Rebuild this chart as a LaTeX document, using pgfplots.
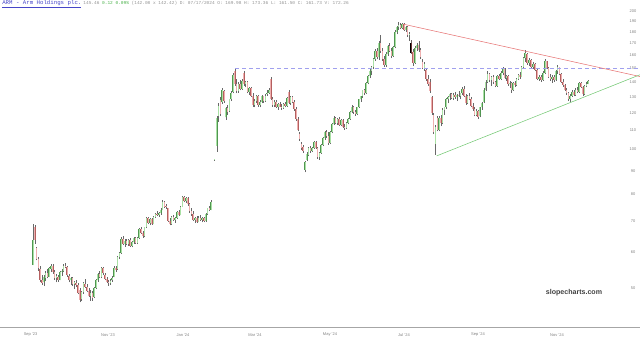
\documentclass[border=0pt]{standalone}
\usepackage{pgfplots}
\pgfplotsset{compat=1.18}
\usepackage{pgfplotstable}
\usepackage{fontspec}
\setmainfont{Liberation Sans}
\newfontfamily\monofont{Liberation Mono}
\definecolor{upfill}{RGB}{170,225,165}
\definecolor{upline}{RGB}{80,150,80}
\definecolor{dnfill}{RGB}{238,175,175}
\definecolor{dnline}{RGB}{180,95,95}
\definecolor{wickc}{RGB}{105,105,105}
\definecolor{hlfill}{RGB}{110,60,60}
\definecolor{armblue}{RGB}{70,70,200}
\definecolor{hdrgray}{RGB}{145,145,145}
\definecolor{hdrgreen}{RGB}{70,175,70}
\definecolor{trred}{RGB}{230,115,115}
\definecolor{trgreen}{RGB}{115,200,115}
\definecolor{trblue}{RGB}{160,160,238}
\pgfplotstableread{
x o h l c k
33.0 56.1 69.0 56.1 63.6 0
34.8 67.8 68.6 62.5 63.5 0
36.6 61 61.5 57.5 58 0
38.4 58 58.5 54.5 55.2 0
40.2 55 55.8 51.5 52.2 0
42.0 52 53.5 50.8 51.3 0
43.8 51.5 53.4 50.5 52.9 0
45.6 52.5 54.5 51.8 54 0
47.4 54 55 52.5 53 0
49.2 53 55.5 52.8 55.2 0
51.0 55 56.5 54.2 56 0
52.8 56 56.3 53.8 54.3 0
54.6 54.3 54.8 52.2 52.6 0
56.4 52.6 53.6 51.5 53.1 0
58.2 53 53.5 51.6 52 0
60.0 52.2 54.5 52 54.2 0
61.8 54.3 55 53.2 54.6 0
63.6 54.6 56.3 54.2 56 0
65.4 56 56.8 55.2 55.6 0
67.2 55.5 56 53 53.3 0
69.0 53.2 53.8 51.5 52 0
70.8 52 53 50.8 52.6 0
72.6 52.5 52.8 50.5 51 0
74.4 51 51.8 49.8 51.5 0
76.2 51.4 52 50.4 50.8 0
78.0 50.8 51.2 48.5 48.9 0
79.8 49.5 50 46.6 47.2 0
81.6 47.3 49.3 47 49 0
83.4 49 51.5 48.6 51.2 0
85.2 51 52.4 50 50.3 0
87.0 50.3 51 49 49.4 0
88.8 49.4 50 47.8 48.2 0
90.6 48.2 49.5 47 48.8 0
92.4 48.8 49.2 47 47.6 0
94.2 47.8 50.2 47.6 50 0
96.0 50 52.4 49.8 52 0
97.8 52 54 51.6 53.6 0
99.6 53.6 54.4 52.5 52.9 0
101.4 53 55.6 52.6 55.3 0
103.2 55.2 55.5 53.5 54 0
105.0 53.5 54 52 52.4 0
106.8 52.4 53 51.2 51.6 0
108.6 51.6 52.2 50.6 51.2 0
110.4 51.2 52.3 50.8 51.9 0
112.2 52 53.2 51.6 52.6 0
114.0 53 55.8 52.8 55.4 0
115.8 55.4 56 54.2 54.7 0
117.6 55 58.8 54.8 58.5 0
119.4 58.5 60 57.8 59.5 0
121.2 59.6 64.5 59.3 64 0
123.0 64 64.8 62 62.5 0
124.8 62.5 63.8 61.5 63.4 0
126.6 63.4 64 62 62.3 0
128.4 62.3 63.8 61.8 63.5 0
130.2 63.5 64.2 61.5 61.8 0
132.0 61.8 63.4 61.3 63 0
133.8 63 64.6 62.5 64.2 0
135.6 64.2 64.5 62.4 62.8 0
137.4 62.8 64.5 62.3 64.3 0
139.2 64.3 67.5 64 67.2 0
141.0 67.2 67.8 65.6 66 0
142.8 66 66.5 64.3 64.8 0
144.6 64.8 68 64.5 67.8 0
146.4 67.8 71.5 67.5 71 0
148.2 71 71.5 68.8 69.2 0
150.0 69.3 71 68.5 70.6 0
151.8 70.6 71.2 68.6 69 0
153.6 69 71.6 68.8 71.3 0
155.4 71.3 73 71 72.6 0
157.2 72.6 73.6 71.6 72 0
159.0 72 73.2 71.4 72.8 0
160.8 72.8 74.5 72.2 74.1 0
162.6 74 77.8 73.8 77 0
164.4 77 77.5 74.8 75.2 0
166.2 75.4 76 74.4 75.1 0
168.0 74.5 74.8 69.6 70 0
169.8 70 71 68.5 68.9 0
171.6 69 71.8 68.7 71.4 0
173.4 71.4 72.2 70 70.4 0
175.2 70.4 71.5 69.4 71.2 0
177.0 71.2 73.5 70.8 73.1 0
178.8 73.1 73.8 71.8 72.2 0
180.6 72.2 75.5 72 75.2 0
182.4 75.2 79.2 75 78.8 0
184.2 78.8 79.5 76.8 77.2 0
186.0 77.2 79 76.5 78.5 0
187.8 78.4 78.8 75.5 76 0
189.6 76 76.5 73 73.5 0
191.4 73.5 74.5 71.8 72.3 0
193.2 72.3 73.4 70 70.5 0
195.0 70.5 71.5 69.2 71 0
196.8 71 71.6 69.3 69.8 0
198.6 69.8 71.6 69.5 71.2 0
200.4 71.2 72 70 70.4 0
202.2 70.4 71.4 69.5 71 0
204.0 71 71.5 69.6 70 0
205.8 70 72.8 69.8 72.5 0
207.6 72.5 74.8 72.2 74.5 0
209.4 74.5 75.4 73.5 74 0
211.2 74 77.8 73.8 77.1 0
214.5 94.8 95.6 94.6 95.2 0
216.8 102 118.5 99 117 0
218.6 118 126 115 124.5 0
220.4 128 130 118.5 119.5 0
222.2 127 136 125.5 134.5 0
224.0 134 135 126.5 127.5 0
225.8 117.5 124 116 123 0
227.6 123 125 119 120.5 0
229.4 121 129 120.5 128.5 0
231.2 128.5 134 127.5 133 0
233.0 133.5 146.5 132.5 145.5 0
234.8 148.5 150.5 137.5 138.5 0
236.6 138.5 142 132.5 134 0
238.4 134 140 133 139 0
240.2 139 141.5 134.5 135.5 0
242.0 135.5 142 135 141 0
243.8 146.5 148 137.5 138.5 0
245.6 138.5 141 136.5 140 0
247.4 140 140.8 132.5 133.5 0
249.2 133.5 137 131.5 136 0
251.0 136 136.5 130 131 0
252.8 131 133 124 125 0
254.6 125 128.5 123.5 127.5 0
256.4 127.5 131.5 126.5 131 0
258.2 131 131.5 124 125 0
260.0 125 128 123.5 127 0
261.8 127 131.5 126 130.5 0
263.6 130.5 131 126.5 127.5 0
265.4 127.5 132 127 131 0
267.2 132 134.5 131 132.8 0
269.0 132.8 136 132 135 0
270.8 142.5 144 128 129 0
272.6 129 130 124 125 0
274.4 125 128 123.5 127 0
276.2 127 128 123 124 0
278.0 124 126 122 125.5 0
279.8 125.5 127 123.5 124 0
281.6 124 125.5 122 123 0
283.4 123 126 122.5 125.5 0
285.2 125.5 127 123.5 124.5 0
287.0 124.5 130 124 129.5 0
288.8 133.5 135 125.5 126.5 0
290.6 126.5 130.5 125 129.8 0
292.4 129.8 131 126 127 0
294.2 127 128 121.5 122.5 0
296.0 122.5 123.5 115.5 116.5 0
297.8 116.5 117.5 109.5 110.5 0
299.6 108 109 104.5 105.5 0
301.4 103 104 100 101 0
303.2 101.5 102.5 98.5 99.5 0
305.0 90.5 94.5 89.2 94 0
306.8 95 99 94.5 98 0
308.6 97.5 101.5 96.8 100.8 0
310.4 100.8 102 98.5 99.2 0
312.2 99.2 101.5 98.8 101 0
314.0 101 104.5 100.5 104 0
315.8 104 104.5 100.5 101 0
317.6 101 101.5 95.5 96.5 0
319.4 96.5 99 95 98.5 0
321.2 98.5 103 98 102.5 0
323.0 102.5 106.5 102 106 0
324.8 106 110 105 109 0
326.6 109 110.5 106 107 0
328.4 107 109 102.5 103.5 0
330.2 103.5 109.5 103 109 0
332.0 109 114 108.5 113.5 0
333.8 113.5 118 113 117 0
335.6 117 117.5 113.5 114.5 0
337.4 114.5 117 113 116.5 0
339.2 116.5 117.5 112.5 113 0
341.0 113 116.5 112.5 116 0
342.8 116 116.5 111.5 112 0
344.6 112 113.5 110.5 111.5 0
346.4 111.5 115 111 114.5 0
348.2 114.5 117 113.5 116.5 0
350.0 116.5 121 116 120.5 0
351.8 120.5 125 120 124 0
353.6 124 124.5 119.5 120.5 0
355.4 120.5 122 118.5 119.5 0
357.2 119.5 124 119 123.5 0
359.0 123.5 129 123 128.5 0
360.8 128.5 131 127 130.5 0
362.6 130.5 135 129.5 134.5 0
364.4 134.5 135.5 131.5 132.5 0
366.2 132.5 140 132 139.5 0
368.0 139.5 145 138.5 144.5 0
369.8 144.5 149.5 143 148.5 0
371.6 148.5 152 145 151 0
373.4 151 158 150 157 0
375.2 157 165 156 163.5 0
377.0 163.5 166 157 158.5 0
378.8 158.5 172 156.5 170 0
380.6 170 177 162 164 0
382.4 164 166 156 157.5 0
384.2 157.5 160 151 152.5 0
386.0 152.5 163 151.5 161 0
387.8 161 169 159.5 168 0
389.6 168 170.5 163 164 0
391.4 164 166 158 159.5 0
393.2 159.5 168 159 167 0
395.0 167 182 166 180.5 0
396.8 180.5 186 178 185 0
398.6 185 189 182 186.5 0
400.4 186.5 188.5 182.5 183.5 0
402.2 183.5 188 183 187 0
404.0 187 188 181 182 0
405.8 182 186 180 184.5 0
407.6 184.5 185.5 176 177 0
409.4 177 180 172.5 178.5 0
411.2 169.98 173.36 161.5 161.73 1
413.1 163 165.5 152 154.5 0
415.0 154.5 168 153.5 166.5 0
416.8 166.5 170.5 164 169 0
418.7 169 172 163 164.5 0
420.6 164.5 166 157.5 158.5 0
422.4 155 157 149.5 150.5 0
424.3 150.5 155 148 153.5 0
426.2 149 150 141 142 0
428.0 142 145.5 137.5 139 0
429.9 140.5 142 133 134 0
431.8 130 131 119 120 0
433.6 119 120 108 109 0
435.5 103 113 97.4 112 0
437.3 117 118 109.5 110.5 0
439.1 110.5 118 109.5 117 0
440.8 117 119 112.5 114 0
442.6 114 123 113.5 122 0
444.4 122 124 119 123.5 0
446.2 123.5 129.5 122.5 128.5 0
448.0 128.5 131 126 130 0
449.7 130 133 128 132 0
451.5 132 133 128.5 129.5 0
453.3 129.5 132.5 128 131.5 0
455.1 131.5 133.5 129 130 0
456.9 130 132 127.5 131.5 0
458.7 131.5 134 130 130.5 0
460.4 130.5 133 128.5 132.5 0
462.2 132.5 136.5 131.5 135.5 0
464.0 135.5 137.5 130 131 0
465.8 131 132 125 126 0
467.5 126 131.5 125.5 130.5 0
469.3 130.5 133 128 129 0
471.0 129 130 123.5 124.5 0
472.8 124.5 126 121.5 122.5 0
474.5 122.5 123.5 118 119 0
476.3 119 122.5 118 121.5 0
478.0 121.5 122 116.5 117.5 0
479.9 118 124 117.5 123.5 0
481.8 123.5 127 122 126.5 0
483.8 127 136 126.5 135 0
485.7 135 141.5 134 140.5 0
487.6 140.5 148.5 139.5 146 0
489.5 146 147 140 141.5 0
491.5 141.5 144.5 137.5 143.5 0
493.4 143.5 145 139 140 0
495.3 140 141 136.5 137.5 0
497.2 137.5 145.5 137 144.5 0
499.2 144.5 146 141.5 142.5 0
501.1 142.5 148 141.5 147 0
503.0 147 151.5 145 150.5 0
504.7 150 150.5 142 143 0
506.4 143 145.5 141 144.5 0
508.1 144.5 145 137.5 138.5 0
509.8 138.5 141 136 139.5 0
511.5 139.5 140 133 134.5 0
513.2 134.5 140.5 134 139.5 0
514.9 139.5 141 137 138 0
516.6 138 143 137.5 142.5 0
518.3 142.5 146 141.5 145 0
519.9 145 147.5 142.5 143.5 0
521.6 144 152 143.5 151 0
523.3 151 159 150 158 0
525.0 158 164.5 155 162 0
527.0 161 162 153 154.5 0
529.0 154.5 158 152 156.5 0
531.0 156.5 157 150 151.5 0
533.0 151.5 155 149.5 153.5 0
535.0 153.5 154 148 149 0
537.0 149 149.5 141.5 142.5 0
539.0 142.5 145.5 141 144 0
541.0 144 145 140.5 141.5 0
543.0 141.5 148 141 147 0
545.0 147 157.5 146 155.5 0
546.8 155.5 156 149.5 150.5 0
548.6 150.5 151 143 144 0
550.4 144 146 141 142.5 0
552.2 142.5 145 139.5 144 0
554.0 144 145.5 140.5 141.5 0
555.8 141.5 149 141 148 0
557.6 148 152.5 146 151 0
559.4 151 151.5 145 146 0
561.2 146 146.5 139.5 140.5 0
563.0 140.5 142 137 138 0
564.8 138 139 134 135 0
566.6 135 136 131.5 132.5 0
568.4 132.5 133.5 127.5 128.5 0
570.2 128.5 132 127 131 0
572.0 131 134.5 130 133.5 0
573.8 133.5 135 130.5 131.5 0
575.6 131.5 136 131 135 0
577.4 135 136.5 132.5 133.5 0
579.2 133.5 140.5 133 139.5 0
581.0 139.5 140 136 137 0
582.8 137 137.5 130.5 132 0
584.6 132 138 131.5 137.5 0
586.4 137.5 140 136.5 139 0
588.2 139 141.5 138.5 141 0
}\ohlc
\begin{document}
\pgfplotstablegetrowsof{\ohlc}%
\pgfmathtruncatemacro\N{\pgfplotsretval-1}%
\gdef\wicks{}\gdef\upb{}\gdef\dnb{}\gdef\hlb{}%
\foreach \i in {0,...,\N}{%
  \pgfplotstablegetelem{\i}{x}\of\ohlc\let\cx\pgfplotsretval
  \pgfplotstablegetelem{\i}{o}\of\ohlc\let\co\pgfplotsretval
  \pgfplotstablegetelem{\i}{h}\of\ohlc\let\ch\pgfplotsretval
  \pgfplotstablegetelem{\i}{l}\of\ohlc\let\cl\pgfplotsretval
  \pgfplotstablegetelem{\i}{c}\of\ohlc\let\cc\pgfplotsretval
  \pgfplotstablegetelem{\i}{k}\of\ohlc\let\ck\pgfplotsretval
  \xdef\wicks{\wicks(\cx,\cl)(\cx,\ch)(\cx,nan)}%
  \ifnum\ck=1
    \xdef\hlb{\hlb(\cx,\co)(\cx,\cc)(\cx,nan)}%
  \else
    \ifdim\cc pt<\co pt
      \xdef\dnb{\dnb(\cx,\co)(\cx,\cc)(\cx,nan)}%
    \else
      \xdef\upb{\upb(\cx,\co)(\cx,\cc)(\cx,nan)}%
    \fi
  \fi
}%
\begin{tikzpicture}
\useasboundingbox (0,-11.25pt) rectangle (480pt,245.25pt);
\begin{axis}[name=ax, at={(0,0)}, anchor=south west,
  scale only axis, width=480pt, height=245.25pt,
  xmin=0, xmax=640, ymode=log, ymin=41.19, ymax=211.3,
  axis x line*=bottom, axis y line*=right,
  x axis line style={draw=gray!70, line width=0.6pt},
  y axis line style={draw=none},
  xtick={30.6,108,183,255,330,404,478,557},
  xticklabels={Sep '23,Nov '23,Jan '24,Mar '24,May '24,Jul '24,Sep '24,Nov '24},
  ytick={50,60,70,80,90,100,110,120,130,140,150,160,170,180,190,200},
  yticklabels={50,60,70,80,90,100,110,120,130,140,150,160,170,180,190,200},
  tick style={draw=none},
  ticklabel style={font=\fontsize{3}{3.5}\selectfont, text=gray},
  yticklabel style={anchor=center, xshift=-5.25pt},
  xticklabel style={anchor=center, yshift=-6pt},
  unbounded coords=jump, clip=false,
]
\edef\tmp{\noexpand\addplot[wickc, line width=0.3pt] coordinates {\wicks};}\tmp
\edef\tmp{\noexpand\addplot[upline, line width=1.1pt] coordinates {\upb};}\tmp
\edef\tmp{\noexpand\addplot[upfill, line width=0.75pt] coordinates {\upb};}\tmp
\edef\tmp{\noexpand\addplot[dnline, line width=1.1pt] coordinates {\dnb};}\tmp
\edef\tmp{\noexpand\addplot[dnfill, line width=0.75pt] coordinates {\dnb};}\tmp
\edef\tmp{\noexpand\addplot[black, line width=1.1pt] coordinates {\hlb};}\tmp
\edef\tmp{\noexpand\addplot[hlfill, line width=0.75pt] coordinates {\hlb};}\tmp
\addplot[trblue, line width=0.4pt, dash pattern=on 3pt off 2.25pt] coordinates {(235,150) (640,150)};
\addplot[trred, line width=0.4pt] coordinates {(402.7,187.4) (640,144.1)};
\addplot[trgreen, line width=0.4pt] coordinates {(436.7,96.9) (640,145.4)};
\end{axis}
\node[anchor=west, inner sep=0pt] at (1.5pt,242.2pt) {{\monofont\fontsize{4.3}{5}\selectfont\color{armblue}\underline{ARM - Arm Holdings plc.}}\hspace{1.5pt}{\monofont\fontsize{3.35}{4}\selectfont\color{hdrgray}145.46 \textcolor{hdrgreen}{0.12 0.09\%} (142.08 x 142.42) D: 07/17/2024 O: 169.98 H: 173.36 L: 161.50 C: 161.73 V: 172.26}};
\node[inner sep=0pt, text=black!75] at (430.5pt,25.5pt) {\fontsize{5.3}{6}\selectfont\bfseries slopecharts.com};
\end{tikzpicture}
\end{document}
